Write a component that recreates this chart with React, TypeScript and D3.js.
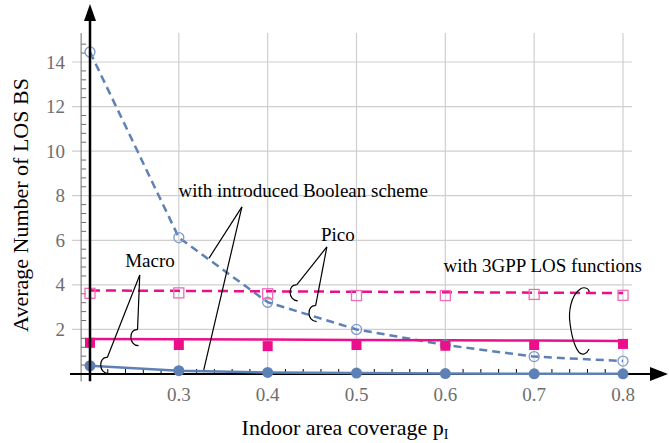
import React from 'react';
import * as d3 from 'd3';

// indoor area coverage (x) and the series
const coverage = [0.2, 0.3, 0.4, 0.5, 0.6, 0.7, 0.8];
const picoBoolean = [14.45, 6.12, 3.22, 2.0, 1.3, 0.78, 0.58];
const macroBoolean = [0.37, 0.15, 0.07, 0.04, 0.02, 0.01, 0.01];
const pico3gppCurve = [3.75, 3.73, 3.71, 3.69, 3.67, 3.65, 3.63];
const pico3gppSim = [3.62, 3.64, 3.6, 3.52, 3.52, 3.57, 3.53];
const macro3gppCurve = [1.57, 1.56, 1.55, 1.53, 1.51, 1.5, 1.48];
const macro3gppSim = [1.4, 1.3, 1.25, 1.3, 1.27, 1.3, 1.35];

const xTicks = [0.3, 0.4, 0.5, 0.6, 0.7, 0.8];
const yTicks = [2, 4, 6, 8, 10, 12, 14];

const W = 669, H = 443;
const BLUE = '#5e81b5';
const BLUE_LIGHT = '#7c9bcb';
const PINK = '#ec0f8b';
const PINK_LIGHT = '#f06cb6';
const GRID = '#cfcfcf';
const TICK = '#6e6e6e';
const SERIF = 'Liberation Serif';

const x = d3.scaleLinear().domain([0.2, 0.8]).range([90, 623]);
const y = d3.scaleLinear().domain([0, 14]).range([374, 62]);

const xFrameL = 0.19, xFrameR = 0.81;
const yFrameT = 15.3, yFrameB = -0.33;

const lineOf = (vals: number[]) =>
  d3.line<number>()
    .x((_, i) => x(coverage[i]))
    .y(d => y(d))(vals) as string;

// small "C" shaped brace at the end of a leader line
const brace = (px: number, py: number, h: number, w: number) =>
  `M${px},${py} C${px - w},${py - 1} ${px - w},${py + h} ${px + 1},${py + h}`;

const App = () => {
  const minorX = d3.range(0.2, 0.8001, 0.02).filter(v => Math.abs(Math.round(v * 10) - v * 10) > 0.01);
  const minorY = d3.range(0.4, 15.2, 0.4).filter(v => Math.abs(v / 2 - Math.round(v / 2)) > 0.01);

  // annotation anchors in data units
  const boolText = { x: 0.44, y: 7.95 };
  const boolFrom = { x: 0.371, y: 7.5 };
  const boolTo = [{ x: 0.334, y: 5.2 }, { x: 0.328, y: 0.17 }];
  const picoText = { x: 0.479, y: 5.98 };
  const picoFrom = { x: 0.4666, y: 5.7 };
  const picoTo = [{ x: 0.4327, y: 4.0 }, { x: 0.454, y: 3.07 }];
  const macroText = { x: 0.2675, y: 4.8 };
  const macroFrom = { x: 0.256, y: 4.44 };
  const macroTo = [{ x: 0.2195, y: 0.74 }, { x: 0.2535, y: 1.99 }];
  const gppText = { x: 0.7096, y: 4.58 };
  const gppArc = { x: 0.7596, y: 3.86 };

  const ga = { x: x(gppArc.x), y: y(gppArc.y) };
  const ff = { fontFamily: SERIF };

  return (
    <svg width={W} height={H} style={{ position: 'absolute', left: 0, top: 0, background: '#fff' }}>
      {/* grid */}
      {yTicks.map(t => (
        <line key={'gy' + t} x1={72} x2={x(xFrameR)} y1={y(t)} y2={y(t)} stroke={GRID} strokeWidth={1.2} />
      ))}
      {xTicks.map(t => (
        <line key={'gx' + t} x1={x(t)} x2={x(t)} y1={y(yFrameT)} y2={y(0)} stroke={GRID} strokeWidth={1.2} />
      ))}

      {/* frame left edge with ticks */}
      <line x1={x(xFrameL)} x2={x(xFrameL)} y1={y(yFrameT)} y2={y(yFrameB)} stroke={TICK} strokeWidth={1} />
      {minorY.map(t => (
        <line key={'my' + t} x1={x(xFrameL)} x2={x(xFrameL) + 5} y1={y(t)} y2={y(t)} stroke={TICK} strokeWidth={1} />
      ))}
      {yTicks.map(t => (
        <text key={'ty' + t} x={65} y={y(t) + 6.5} textAnchor="end" fontSize={19} fill={TICK} style={ff}>{t}</text>
      ))}

      {/* x axis */}
      <line x1={70} x2={652} y1={y(0)} y2={y(0)} stroke="#000" strokeWidth={2} />
      <path d={`M650,${y(0) - 7} L668,${y(0)} L650,${y(0) + 7} Z`} fill="#000" />
      {minorX.map(t => (
        <line key={'mx' + t} x1={x(t)} x2={x(t)} y1={y(0)} y2={y(0) - 5} stroke="#000" strokeWidth={1} />
      ))}
      {xTicks.map(t => (
        <text key={'tx' + t} x={x(t)} y={401} textAnchor="middle" fontSize={19} fill={TICK} style={ff}>{t.toFixed(1)}</text>
      ))}

      {/* series */}
      <path d={lineOf(picoBoolean)} fill="none" stroke={BLUE} strokeWidth={2.5} strokeDasharray="8,5" />
      <path d={lineOf(macroBoolean)} fill="none" stroke={BLUE} strokeWidth={2.5} />
      <path d={lineOf(pico3gppCurve)} fill="none" stroke={PINK} strokeWidth={2.5} strokeDasharray="10,6" />
      <path d={lineOf(macro3gppCurve)} fill="none" stroke={PINK} strokeWidth={2.5} />

      {picoBoolean.map((v, i) => (
        <circle key={'pb' + i} cx={x(coverage[i])} cy={y(v)} r={5} fill="none" stroke={BLUE_LIGHT} strokeWidth={1.3} />
      ))}
      {macroBoolean.map((v, i) => (
        <circle key={'mb' + i} cx={x(coverage[i])} cy={y(v)} r={5.5} fill={BLUE} />
      ))}
      {pico3gppSim.map((v, i) => (
        <rect key={'ps' + i} x={x(coverage[i]) - 5} y={y(v) - 5} width={10} height={10}
          fill="none" stroke={PINK_LIGHT} strokeWidth={1.3} />
      ))}
      {macro3gppSim.map((v, i) => (
        <rect key={'ms' + i} x={x(coverage[i]) - 5} y={y(v) - 5} width={10} height={10} fill={PINK} />
      ))}

      {/* y axis */}
      <line x1={x(0.2)} x2={x(0.2)} y1={y(yFrameB)} y2={18} stroke="#000" strokeWidth={2.5} />
      <path d={`M${x(0.2) - 6},21 L${x(0.2)},4 L${x(0.2) + 6},21 Z`} fill="#000" />

      {/* annotations */}
      <g fill="none" stroke="#000" strokeWidth={1.2}>
        {boolTo.map((p, i) => (
          <line key={'bl' + i} x1={x(boolFrom.x)} y1={y(boolFrom.y)} x2={x(p.x)} y2={y(p.y)} />
        ))}
        {picoTo.map((p, i) => (
          <g key={'pl' + i}>
            <line x1={x(picoFrom.x)} y1={y(picoFrom.y)} x2={x(p.x)} y2={y(p.y)} />
            <path d={brace(x(p.x), y(p.y), 16, 9)} />
          </g>
        ))}
        {macroTo.map((p, i) => (
          <g key={'ml' + i}>
            <line x1={x(macroFrom.x)} y1={y(macroFrom.y)} x2={x(p.x)} y2={y(p.y)} />
            <path d={brace(x(p.x), y(p.y), 16, 9)} />
          </g>
        ))}
        <path d={`M${ga.x - 8},${ga.y + 2} C${ga.x - 4},${ga.y - 2} ${ga.x + 2},${ga.y} ${ga.x + 2},${ga.y + 4}
          M${ga.x - 8},${ga.y + 2} C${ga.x - 16},${ga.y + 8} ${ga.x - 19},${ga.y + 24} ${ga.x - 17},${ga.y + 36}
          C${ga.x - 15},${ga.y + 52} ${ga.x - 10},${ga.y + 68} ${ga.x - 3},${ga.y + 66}
          C${ga.x},${ga.y + 65} ${ga.x + 1},${ga.y + 63} ${ga.x + 2},${ga.y + 61}`} />
      </g>
      <g fontSize={19} fill="#000">
        <text x={x(boolText.x)} y={y(boolText.y)} textAnchor="middle" style={ff}>with introduced Boolean scheme</text>
        <text x={x(picoText.x)} y={y(picoText.y)} textAnchor="middle" style={ff}>Pico</text>
        <text x={x(macroText.x)} y={y(macroText.y)} textAnchor="middle" style={ff}>Macro</text>
        <text x={x(gppText.x)} y={y(gppText.y)} textAnchor="middle" style={ff}>with 3GPP LOS functions</text>
      </g>

      {/* axis titles */}
      <text x={345} y={435} textAnchor="middle" fontSize={22} fill="#000" style={ff}>
        Indoor area coverage p<tspan fontSize={14} dy={4}>I</tspan>
      </text>
      <text transform="translate(28,205) rotate(-90)" textAnchor="middle" fontSize={22} fill="#000" style={ff}>
        Average Number of LOS BS
      </text>
    </svg>
  );
};

export default App;
